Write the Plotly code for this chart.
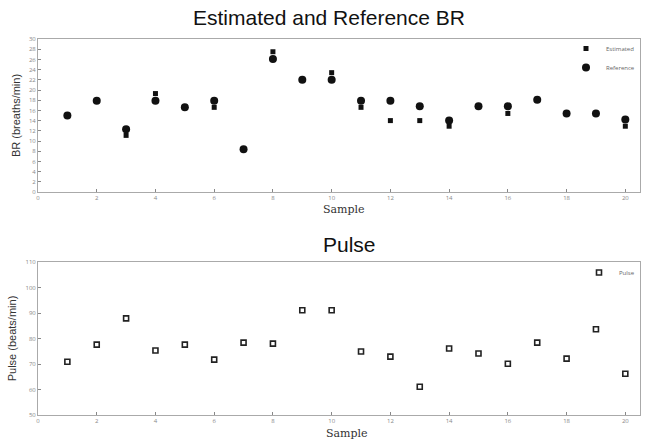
import plotly.graph_objects as go

samples = list(range(1, 21))
br_estimated = [15.0, 17.9, 11.1, 19.3, 16.6, 16.6, 8.4, 27.5, 22.0, 23.4,
                16.6, 14.0, 14.0, 12.9, 16.8, 15.4, 18.1, 15.4, 15.4, 12.9]
br_reference = [15.0, 17.9, 12.3, 17.9, 16.6, 17.9, 8.4, 26.1, 22.0, 22.0,
                17.9, 17.9, 16.8, 14.0, 16.8, 16.8, 18.1, 15.4, 15.4, 14.2]
pulse = [70.9, 77.6, 87.9, 75.3, 77.6, 71.7, 78.4, 78.0, 91.1, 91.1,
         74.9, 72.9, 61.1, 76.1, 74.1, 70.1, 78.4, 72.1, 83.6, 66.2]

W, H = 651, 439
PL, PR = 38, 640  # plot area left/right in px


def ydom(top_px, bot_px):
    return [1 - bot_px / H, 1 - top_px / H]


def px_x(px):
    return (px - PL) / (PR - PL)


def px_y(py):
    return 1 - py / H


fig = go.Figure()
fig.add_trace(go.Scatter(x=samples, y=br_estimated, mode="markers", name="Estimated",
                         marker=dict(symbol="square", size=5, color="#111"),
                         xaxis="x", yaxis="y", legend="legend"))
fig.add_trace(go.Scatter(x=samples, y=br_reference, mode="markers", name="Reference",
                         marker=dict(symbol="circle", size=8, color="#111"),
                         xaxis="x", yaxis="y", legend="legend"))
fig.add_trace(go.Scatter(x=samples, y=pulse, mode="markers", name="Pulse",
                         marker=dict(symbol="square-open", size=5, color="#222",
                                     line=dict(width=1.6, color="#222")),
                         xaxis="x2", yaxis="y2", legend="legend2"))

axis_common = dict(showgrid=False, zeroline=False, showline=True, mirror=True,
                   linecolor="#aaa", linewidth=1, ticks="inside", ticklen=3,
                   tickcolor="#888", tickfont=dict(size=6, color="#888"))

ytitle_font = dict(size=11, family="Arial", color="#333")
xtitle_font = dict(size=11, family="DejaVu Serif", color="#333")

fig.update_layout(
    width=W, height=H, paper_bgcolor="white", plot_bgcolor="white",
    margin=dict(l=PL, r=W - PR, t=0, b=0),
    showlegend=True,
    xaxis=dict(domain=[0, 1], range=[0, 20.5], dtick=2, anchor="y",
               automargin=False, **axis_common),
    yaxis=dict(domain=ydom(39, 192), range=[0, 30], dtick=2, anchor="x",
               title=dict(text="BR (breaths/min)", font=ytitle_font, standoff=6),
               automargin=False, **axis_common),
    xaxis2=dict(domain=[0, 1], range=[0, 20.5], dtick=2, anchor="y2",
                automargin=False, **axis_common),
    yaxis2=dict(domain=ydom(262, 415), range=[50, 110], dtick=10, anchor="x2",
                title=dict(text="Pulse (beats/min)", font=ytitle_font, standoff=6),
                automargin=False, **axis_common),
    legend=dict(x=1.0, y=px_y(34), xanchor="right", yanchor="top",
                font=dict(size=6, color="#666"), bgcolor="rgba(255,255,255,0)",
                itemwidth=30, tracegroupgap=0),
    legend2=dict(x=1.0, y=px_y(258), xanchor="right", yanchor="top",
                 font=dict(size=6, color="#666"), bgcolor="rgba(255,255,255,0)",
                 itemwidth=30),
    annotations=[
        dict(text="Estimated and Reference BR", x=px_x(329), y=px_y(18), xref="paper", yref="paper",
             xanchor="center", yanchor="middle", showarrow=False,
             font=dict(size=21, family="Arial", color="#111")),
        dict(text="Pulse", x=px_x(349), y=px_y(244), xref="paper", yref="paper",
             xanchor="center", yanchor="middle", showarrow=False,
             font=dict(size=21, family="Arial", color="#111")),
        dict(text="Sample", x=px_x(344), y=px_y(210), xref="paper", yref="paper",
             xanchor="center", yanchor="middle", showarrow=False, font=xtitle_font),
        dict(text="Sample", x=px_x(347), y=px_y(433), xref="paper", yref="paper",
             xanchor="center", yanchor="middle", showarrow=False, font=xtitle_font),
    ],
)

fig.write_html("out.html", config={"displayModeBar": False},
               post_script="document.body.style.margin='0';document.body.style.overflow='hidden';")
